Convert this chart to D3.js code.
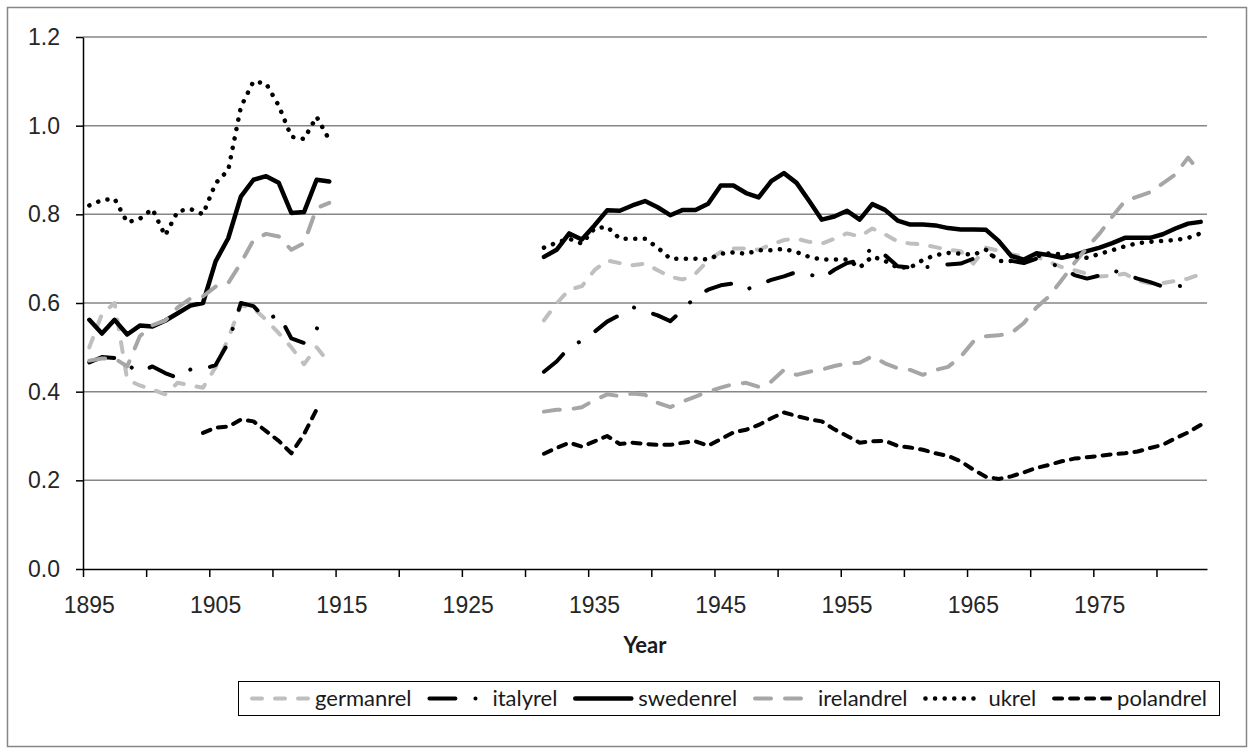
<!DOCTYPE html>
<html>
<head>
<meta charset="utf-8">
<script src="https://cdn.jsdelivr.net/npm/d3@7"></script>
<style>
  body { margin: 0; background: #fff; }
  svg { display: block; font-family: Lato, "Open Sans", sans-serif; }
  .tick text { fill: #262626; font-size: 23px; }
</style>
</head>
<body>
<div id="wrapper"></div>
<script>
// categories
const firstPreYear = 1895;   // pre-war segment 1895-1914
const firstPostYear = 1931;  // post-war segment 1931-1983
const firstYear = 1895;
const lastYear = 1983;
const xLabelYears = [1895, 1905, 1915, 1925, 1935, 1945, 1955, 1965, 1975];
const yTicks = [0, 0.2, 0.4, 0.6, 0.8, 1.0, 1.2];
const seriesNames = ["germanrel", "italyrel", "swedenrel", "irelandrel", "ukrel", "polandrel"];

// values, 1895-1914
const germanPre = [0.50, 0.575, 0.60, 0.427, 0.414, 0.405, 0.394, 0.42, 0.414, 0.409, 0.455, 0.52, 0.595, 0.588, 0.562, 0.532, 0.50, 0.462, 0.50, 0.465];
const italyPre = [0.466, 0.478, 0.476, 0.46, 0.444, 0.457, 0.442, 0.431, 0.45, 0.451, 0.46, 0.51, 0.60, 0.593, 0.563, 0.574, 0.52, 0.51, 0.543, 0.536];
const swedenPre = [0.562, 0.531, 0.562, 0.529, 0.549, 0.547, 0.56, 0.577, 0.594, 0.60, 0.694, 0.746, 0.84, 0.878, 0.886, 0.871, 0.803, 0.805, 0.878, 0.874];
const irelandPre = [0.47, 0.475, 0.475, 0.457, 0.525, 0.55, 0.56, 0.59, 0.61, 0.615, 0.637, 0.645, 0.69, 0.742, 0.756, 0.75, 0.72, 0.735, 0.814, 0.826];
const ukPre = [0.82, 0.832, 0.835, 0.782, 0.79, 0.812, 0.752, 0.807, 0.812, 0.80, 0.87, 0.90, 1.042, 1.10, 1.095, 1.045, 0.975, 0.97, 1.02, 0.968];
const polandPre = [null, null, null, null, null, null, null, null, null, 0.307, 0.319, 0.321, 0.337, 0.333, 0.311, 0.289, 0.261, 0.304, 0.36, null];

// values, 1931-1983
const germanPost = [0.561, 0.599, 0.63, 0.638, 0.674, 0.696, 0.69, 0.685, 0.689, 0.674, 0.659, 0.653, 0.666, 0.696, 0.715, 0.723, 0.723, 0.72,
  0.732, 0.742, 0.745, 0.738, 0.734, 0.745, 0.757, 0.75, 0.768, 0.755, 0.739, 0.734, 0.732, 0.726, 0.72, 0.717, 0.689,
  0.725, 0.718, 0.71, 0.705, 0.704, 0.693, 0.681, 0.674, 0.666, 0.66, 0.662, 0.666, 0.651, 0.644, 0.645, 0.65, 0.655, 0.665];
const italyPost = [0.445, 0.468, 0.50, 0.515, 0.535, 0.558, 0.573, 0.591, 0.582, 0.572, 0.559, 0.585, 0.614, 0.63, 0.64, 0.644, 0.63, 0.642,
  0.652, 0.66, 0.67, 0.665, 0.655, 0.675, 0.69, 0.696, 0.725, 0.708, 0.683, 0.68, 0.68, 0.683, 0.687, 0.689, 0.70,
  0.71, 0.705, 0.695, 0.69, 0.70, 0.69, 0.68, 0.663, 0.655, 0.662, 0.674, 0.665, 0.655, 0.647, 0.637, 0.637, 0.641, null];
const swedenPost = [0.704, 0.72, 0.757, 0.743, 0.775, 0.809, 0.808, 0.82, 0.83, 0.816, 0.798, 0.81, 0.81, 0.824, 0.865, 0.865, 0.848, 0.838,
  0.875, 0.893, 0.871, 0.83, 0.788, 0.795, 0.808, 0.788, 0.823, 0.81, 0.786, 0.777, 0.777, 0.775, 0.769, 0.766, 0.766,
  0.765, 0.74, 0.706, 0.698, 0.712, 0.708, 0.702, 0.708, 0.717, 0.725, 0.735, 0.747, 0.747, 0.747, 0.755, 0.768, 0.779, 0.783];
const irelandPost = [0.355, 0.359, 0.36, 0.365, 0.381, 0.394, 0.39, 0.396, 0.393, 0.375, 0.365, 0.378, 0.389, 0.40, 0.409, 0.417, 0.42, 0.411,
  0.423, 0.449, 0.438, 0.445, 0.45, 0.458, 0.464, 0.465, 0.48, 0.464, 0.453, 0.449, 0.438, 0.449, 0.456, 0.479, 0.513,
  0.525, 0.527, 0.532, 0.555, 0.59, 0.615, 0.652, 0.69, 0.725, 0.757, 0.795, 0.83, 0.84, 0.85, 0.87, 0.89, 0.928, 0.893];
const ukPost = [0.725, 0.736, 0.745, 0.734, 0.768, 0.772, 0.745, 0.745, 0.745, 0.725, 0.70, 0.70, 0.70, 0.698, 0.711, 0.714, 0.711, 0.719,
  0.719, 0.722, 0.715, 0.704, 0.698, 0.698, 0.698, 0.68, 0.705, 0.695, 0.68, 0.68, 0.697, 0.708, 0.713, 0.711, 0.709,
  0.72, 0.695, 0.695, 0.70, 0.705, 0.712, 0.71, 0.705, 0.702, 0.711, 0.719, 0.728, 0.735, 0.738, 0.74, 0.742, 0.747, 0.757];
const polandPost = [0.26, 0.273, 0.285, 0.276, 0.288, 0.30, 0.282, 0.285, 0.282, 0.28, 0.28, 0.285, 0.288, 0.278, 0.293, 0.308, 0.314, 0.325,
  0.34, 0.353, 0.345, 0.338, 0.333, 0.315, 0.30, 0.285, 0.288, 0.289, 0.278, 0.274, 0.269, 0.261, 0.255, 0.243, 0.224,
  0.208, 0.203, 0.209, 0.218, 0.228, 0.235, 0.243, 0.249, 0.252, 0.255, 0.259, 0.261, 0.265, 0.273, 0.28, 0.295, 0.308, 0.325];

const seriesPre = [germanPre, italyPre, swedenPre, irelandPre, ukPre, polandPre];
const seriesPost = [germanPost, italyPost, swedenPost, irelandPost, ukPost, polandPost];

// line looks, Excel style
const styles = {
    germanrel:  { color: "#bfbfbf", width: 4,   dash: "10,13", cap: "round" },
    italyrel:   { color: "#000000", width: 4,   dash: "26,20,0.1,20", cap: "round" },
    swedenrel:  { color: "#000000", width: 4.5, dash: null, cap: "round" },
    irelandrel: { color: "#a6a6a6", width: 4,   dash: "16,14", cap: "round" },
    ukrel:      { color: "#000000", width: 4.5, dash: "0.1,9.5", cap: "round" },
    polandrel:  { color: "#000000", width: 4,   dash: "8,8", cap: "round" },
};

function draw() {
    const years = d3.range(firstYear, lastYear + 1);

    const series = seriesNames.map((name, i) => {
        const values = years.map(yr => {
            let v = null;
            if (yr >= firstPreYear && yr - firstPreYear < seriesPre[i].length) v = seriesPre[i][yr - firstPreYear];
            if (yr >= firstPostYear) v = seriesPost[i][yr - firstPostYear];
            return { year: yr, v: v == null ? null : v };
        });
        return { name, values };
    });

    const width = 1254;
    const height = 754;
    const plot = { left: 83, right: 1207, top: 37, bottom: 569 };

    const svg = d3.select("#wrapper").append("svg")
        .attr("width", width)
        .attr("height", height);

    svg.append("rect")
        .attr("x", 7.5).attr("y", 7.5)
        .attr("width", 1239).attr("height", 739)
        .attr("fill", "#fff")
        .attr("stroke", "#868686")
        .attr("stroke-width", 1.5);

    // category axis: one band per year
    const xBand = d3.scaleBand()
        .domain(years)
        .range([plot.left, plot.right])
        .padding(0);
    // edges of the categories, for the tick marks between them
    const xEdge = d3.scaleLinear()
        .domain([firstYear, lastYear + 1])
        .range([plot.left, plot.right]);
    const yScale = d3.scaleLinear()
        .domain([0, 1.2])
        .range([plot.bottom, plot.top]);

    // gridlines
    svg.append("g")
        .selectAll("line")
        .data(yTicks.filter(d => d > 0))
        .join("line")
        .attr("x1", plot.left)
        .attr("x2", plot.right)
        .attr("y1", d => yScale(d))
        .attr("y2", d => yScale(d))
        .attr("stroke", "#868686")
        .attr("stroke-width", 1.5);

    // y axis
    const yAxis = svg.append("g")
        .attr("transform", `translate(${plot.left},0)`)
        .call(d3.axisLeft(yScale).tickValues(yTicks).tickFormat(d3.format(".1f")).tickSize(7).tickSizeOuter(0).tickPadding(16));
    yAxis.select(".domain").attr("stroke", "#000").attr("stroke-width", 1.5);
    yAxis.selectAll(".tick line").attr("stroke", "#000").attr("stroke-width", 1.5);
    yAxis.selectAll(".tick text").attr("font-family", null).attr("font-size", null);

    // x axis: tick marks between categories every 5 years
    const xAxis = svg.append("g")
        .attr("transform", `translate(0,${plot.bottom})`)
        .call(d3.axisBottom(xEdge).tickValues(d3.range(firstYear, lastYear + 1, 5)).tickFormat("").tickSize(8).tickSizeOuter(0));
    xAxis.select(".domain").attr("stroke", "#000").attr("stroke-width", 1.5);
    xAxis.selectAll(".tick line").attr("stroke", "#000").attr("stroke-width", 1.5);

    // labels centred on their category
    const xLabels = svg.append("g")
        .attr("transform", `translate(0,${plot.bottom})`)
        .call(d3.axisBottom(xBand).tickValues(xLabelYears).tickSize(0).tickPadding(28));
    xLabels.select(".domain").remove();
    xLabels.selectAll(".tick text").attr("font-family", null).attr("font-size", null);

    svg.append("text")
        .attr("x", (plot.left + plot.right) / 2)
        .attr("y", 653)
        .attr("text-anchor", "middle")
        .attr("font-size", 22)
        .attr("font-weight", "bold")
        .attr("fill", "#1a1a1a")
        .text("Year");

    // lines
    const lineGenerator = d3.line()
        .defined(d => d.v != null)
        .x(d => xBand(d.year) + xBand.bandwidth() / 2)
        .y(d => yScale(d.v));

    svg.append("g")
        .selectAll("path")
        .data(series)
        .join("path")
        .attr("d", d => lineGenerator(d.values))
        .attr("fill", "none")
        .attr("stroke", d => styles[d.name].color)
        .attr("stroke-width", d => styles[d.name].width)
        .attr("stroke-dasharray", d => styles[d.name].dash)
        .attr("stroke-linecap", d => styles[d.name].cap)
        .attr("stroke-linejoin", "round");

    // legend, items spread over the box
    const legend = { left: 238, right: 1219, top: 681, height: 34, sample: 60, pad: 12 };
    svg.append("rect")
        .attr("x", legend.left + 0.5)
        .attr("y", legend.top + 0.5)
        .attr("width", legend.right - legend.left)
        .attr("height", legend.height)
        .attr("fill", "#fff")
        .attr("stroke", "#000")
        .attr("stroke-width", 1);

    const midY = legend.top + legend.height / 2 + 0.5;
    const items = svg.append("g").selectAll("g")
        .data(series)
        .join("g");
    items.append("text")
        .attr("y", midY + 7)
        .attr("font-size", 22)
        .attr("fill", "#1a1a1a")
        .text(d => d.name);
    const textWidths = items.select("text").nodes().map(n => n.getComputedTextLength());
    const used = d3.sum(textWidths) + series.length * (legend.sample + 5);
    const gap = (legend.right - legend.left - 2 * legend.pad - used) / (series.length - 1);
    let cursor = legend.left + legend.pad;
    items.each(function(d, i) {
        const st = styles[d.name];
        const g = d3.select(this);
        g.append("line")
            .attr("x1", cursor + 2)
            .attr("x2", cursor + legend.sample - 2)
            .attr("y1", midY)
            .attr("y2", midY)
            .attr("stroke", st.color)
            .attr("stroke-width", st.width)
            .attr("stroke-dasharray", st.dash)
            .attr("stroke-linecap", st.cap);
        g.select("text").attr("x", cursor + legend.sample + 5);
        cursor += legend.sample + 5 + textWidths[i] + gap;
    });
}
draw();
</script>
</body>
</html>
